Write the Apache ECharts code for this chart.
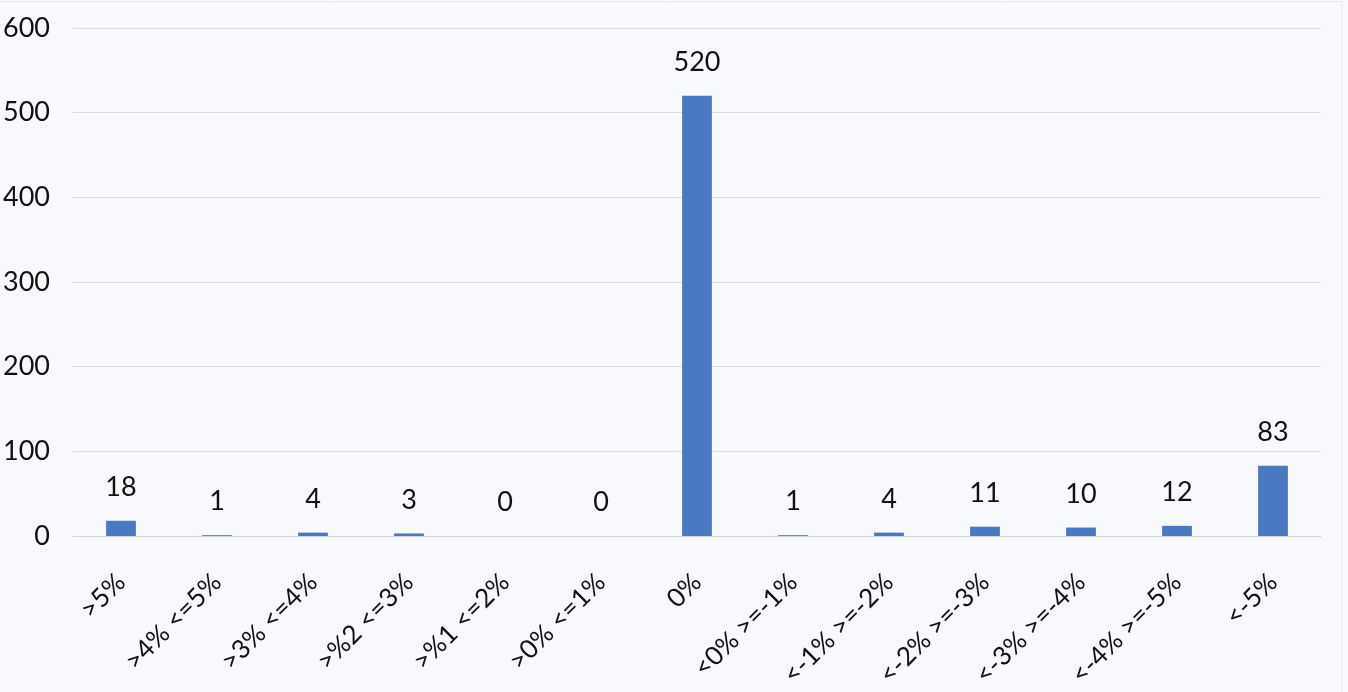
<!DOCTYPE html>
<html>
<head>
<meta charset="utf-8">
<script src="https://cdn.jsdelivr.net/npm/echarts@6/dist/echarts.min.js"></script>
<style>
html,body{margin:0;padding:0;background:#f8f9fc;}
#main{width:1348px;height:692px;}
</style>
</head>
<body>
<div id="main"></div>
<script>
const categories = [">5%", ">4% <=5%", ">3% <=4%", ">%2 <=3%", ">%1 <=2%", ">0% <=1%", "0%", "<0% >=-1%", "<-1% >=-2%", "<-2% >=-3%", "<-3% >=-4%", "<-4% >=-5%", "<-5%"];
const counts = [18, 1, 4, 3, 0, 0, 520, 1, 4, 11, 10, 12, 83];
const yTicks = [0, 100, 200, 300, 400, 500, 600];

const chart = echarts.init(document.getElementById('main'));
const font = 'Lato, "Open Sans", sans-serif';
chart.setOption({
  backgroundColor: '#f8f9fc',
  animation: false,
  graphic: [{
    type: 'rect', silent: true, z: -1,
    shape: { x: -1, y: 1.5, width: 1343, height: 700 },
    style: { fill: 'none', stroke: '#e6e8ee', lineWidth: 1 }
  }],
  grid: { left: 71, right: 27, top: 28, bottom: 156, containLabel: false },
  xAxis: {
    type: 'category',
    data: categories,
    axisTick: { show: false },
    axisLine: { lineStyle: { color: '#cfd3dc', width: 1 } },
    axisLabel: { rotate: 45, margin: 42, interval: 0, color: '#111', fontSize: 26, fontFamily: font }
  },
  yAxis: {
    type: 'value',
    min: yTicks[0],
    max: yTicks[yTicks.length - 1],
    interval: 100,
    axisLine: { show: false },
    axisTick: { show: false },
    splitLine: { lineStyle: { color: '#d8dce6', width: 1 } },
    axisLabel: { margin: 23, color: '#111', fontSize: 27, fontFamily: font }
  },
  series: [{
    type: 'bar',
    data: counts,
    barWidth: '31%',
    itemStyle: { color: '#4a78c2' },
    label: { show: true, position: 'top', distance: 20, color: '#111', fontSize: 27, fontFamily: font }
  }]
});
</script>
</body>
</html>
